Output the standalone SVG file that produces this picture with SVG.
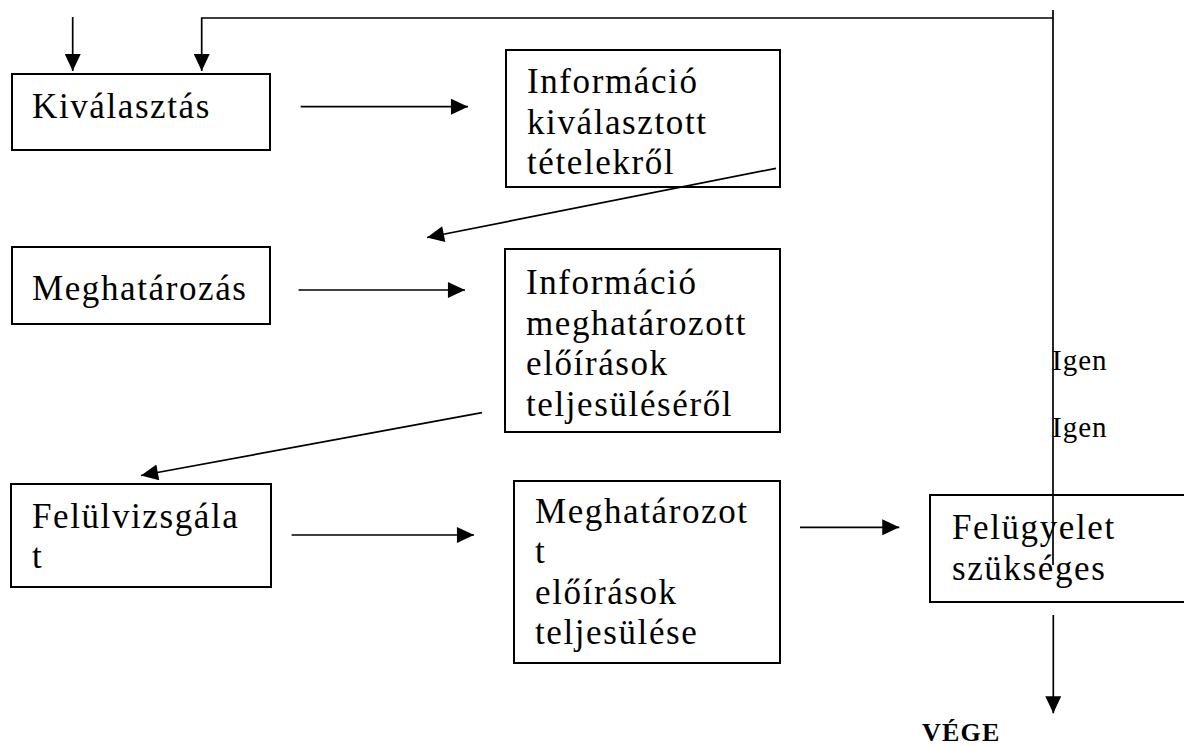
<svg xmlns="http://www.w3.org/2000/svg" width="1184" height="746" viewBox="0 0 1184 746">
<style>
.box{fill:#fff;stroke:#000;stroke-width:2}
.t{font-family:"Liberation Serif","Times New Roman",serif;font-size:35px;letter-spacing:1.6px;fill:#000}
.s{font-family:"Liberation Serif","Times New Roman",serif;font-size:29px;letter-spacing:1px;fill:#000}
.b{font-family:"Liberation Serif","Times New Roman",serif;font-size:26px;font-weight:bold;letter-spacing:1.2px;fill:#000}
.c{fill:none;stroke:#000;stroke-width:1.7}
.a{marker-end:url(#ah)}
</style>
<defs>
<marker id="ah" markerUnits="userSpaceOnUse" markerWidth="18" markerHeight="16" viewBox="0 0 16 15" refX="16" refY="7.5" orient="auto">
<path d="M0,0 L16,7.5 L0,15 Z" fill="#000"/>
</marker>
</defs>
<rect width="1184" height="746" fill="#fff"/>
<g id="n-kivalasztas">
<rect class="box" x="12" y="74" width="258" height="76"/>
<text class="t" x="32" y="118">Kiválasztás</text>
</g>
<g id="n-info-kivalasztott">
<rect class="box" x="506" y="50" width="274" height="137"/>
<text class="t" x="527" y="93">Információ</text>
<text class="t" x="527" y="134">kiválasztott</text>
<text class="t" x="527" y="174">tételekről</text>
</g>
<g id="n-meghatarozas">
<rect class="box" x="12" y="247" width="258" height="77"/>
<text class="t" x="32" y="300">Meghatározás</text>
</g>
<g id="n-info-meghatarozott">
<rect class="box" x="505" y="249" width="275" height="183"/>
<text class="t" x="526" y="294">Információ</text>
<text class="t" x="526" y="335">meghatározott</text>
<text class="t" x="526" y="375">előírások</text>
<text class="t" x="526" y="416">teljesüléséről</text>
</g>
<g id="n-felulvizsgalat">
<rect class="box" x="11" y="484" width="260" height="103"/>
<text class="t" x="32" y="528">Felülvizsgála</text>
<text class="t" x="32" y="568">t</text>
</g>
<g id="n-meghatarozott-eloirasok">
<rect class="box" x="514" y="481" width="266" height="182"/>
<text class="t" x="535" y="523">Meghatározot</text>
<text class="t" x="535" y="563">t</text>
<text class="t" x="535" y="604">előírások</text>
<text class="t" x="535" y="644">teljesülése</text>
</g>
<g id="n-felugyelet">
<rect class="box" x="930" y="495" width="262" height="107"/>
<text class="t" x="952" y="539">Felügyelet</text>
<text class="t" x="952" y="580">szükséges</text>
</g>
<g id="connectors">
<line class="c a" x1="72.7" y1="17" x2="72.7" y2="71"/>
<polyline class="c a" points="1053,10 1053,18 201.7,18 201.7,71"/>
<line class="c" x1="1053" y1="18" x2="1053" y2="565"/>
<line class="c a" x1="300.7" y1="106.7" x2="468" y2="106.7"/>
<line class="c a" x1="776" y1="168.3" x2="427" y2="237.5"/>
<line class="c a" x1="298.5" y1="290" x2="465" y2="290"/>
<line class="c a" x1="482" y1="412.7" x2="141" y2="475.5"/>
<line class="c a" x1="291.6" y1="535" x2="474" y2="535"/>
<line class="c a" x1="800" y1="527.3" x2="899.3" y2="527.3"/>
<line class="c a" x1="1053.3" y1="615" x2="1053.3" y2="713.3"/>
</g>
<g id="labels">
<text class="s" x="1052" y="370">Igen</text>
<text class="s" x="1052" y="437">Igen</text>
<text class="b" x="922" y="741">VÉGE</text>
</g>
</svg>
